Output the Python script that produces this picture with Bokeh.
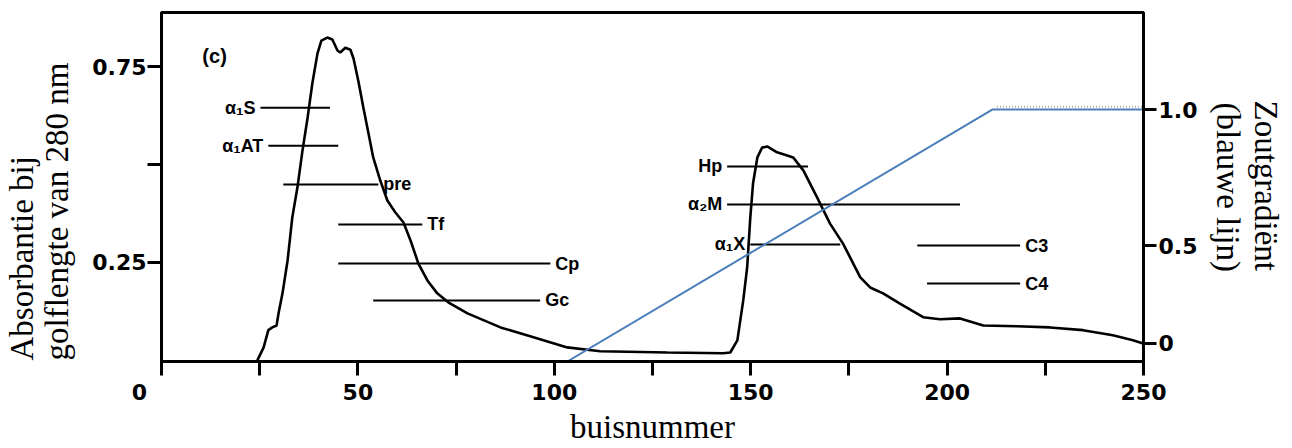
import numpy as np
from bokeh.plotting import figure
from bokeh.layouts import row
from bokeh.models import Range1d, LinearAxis, FixedTicker, Label
from bokeh.embed import file_html
from bokeh.resources import INLINE
from bokeh.core.properties import value

# ---------------- data ----------------
tube = [24.4, 26.0, 27.2, 28.2, 29.3, 29.8, 30.8, 32.1, 33.3, 34.6, 35.9, 37.2, 38.4,
        39.7, 40.7, 42.2, 43.5, 44.8, 45.5, 46.8, 48.1, 48.9, 50.1, 51.4, 52.7, 53.9,
        55.7, 57.5, 59.5, 61.6, 63.4, 65.4, 67.7, 70.2, 73.0, 77.9, 86.3, 94.7, 103.3,
        111.7, 128.8, 143.0, 144.8, 146.6, 148.1, 149.1, 149.9, 150.6, 151.7, 152.9,
        154.2, 156.7, 159.3, 160.8, 163.4, 166.9, 170.2, 173.5, 175.3, 177.9, 180.4,
        183.7, 188.0, 193.9, 198.2, 203.3, 209.2, 217.8, 226.2, 234.6, 242.2, 247.3, 249.9]
absorbance = [0.0, 0.033, 0.077, 0.084, 0.089, 0.120, 0.171, 0.255, 0.365, 0.441, 0.536,
              0.620, 0.707, 0.783, 0.816, 0.824, 0.819, 0.791, 0.786, 0.798, 0.793, 0.770,
              0.714, 0.645, 0.579, 0.518, 0.459, 0.408, 0.378, 0.352, 0.306, 0.247, 0.204,
              0.171, 0.148, 0.120, 0.084, 0.059, 0.033, 0.023, 0.020, 0.018, 0.020, 0.051,
              0.153, 0.237, 0.365, 0.452, 0.518, 0.543, 0.546, 0.531, 0.523, 0.518, 0.485,
              0.416, 0.349, 0.298, 0.263, 0.212, 0.186, 0.171, 0.145, 0.110, 0.105, 0.107,
              0.089, 0.087, 0.084, 0.077, 0.064, 0.051, 0.043]

# salt gradient (right axis)
grad_x = [103.3, 211.5, 252.0]
grad_y = [-0.077, 1.0, 1.0]
dotted_x = [212.7, 250.0]
dotted_y = [1.012, 1.012]

# elution bands of proteins
band_names = ["α₁S", "α₁AT", "pre", "Tf", "Cp", "Gc", "Hp", "α₂M", "α₁X", "C3", "C4"]
band_start = [25.2, 27.2, 31.0, 45.0, 45.0, 53.9, 144.0, 144.0, 149.9, 192.4, 194.9]
band_end = [42.9, 45.0, 55.2, 66.4, 99.0, 96.4, 164.6, 203.3, 172.8, 218.6, 218.6]
band_level = [0.645, 0.548, 0.449, 0.347, 0.247, 0.153, 0.495, 0.398, 0.296, 0.293, 0.196]
band_label_side = ["left", "left", "right", "right", "right", "right",
                   "left", "left", "left", "right", "right"]

x_ticks = [0, 25, 50, 75, 100, 125, 150, 175, 200, 225, 250]
x_tick_labels = ["0\u2003\u2003", "", "50", "", "100", "", "150", "", "200", "", "250"]
y_ticks = [0.25, 0.5, 0.75]
y_tick_labels = ["0.25", "", "0.75"]
right_ticks = [0.0, 0.417, 1.0]
right_tick_labels = ["0", "0.5", "1.0"]

x_title = "buisnummer"
y_title_lines = ["Absorbantie bij", "golflengte van 280 nm"]
right_title_lines = ["Zoutgradiënt", "(blauwe lijn)"]

H = 448
LEFT_W = 84
RIGHT_W = 92
MAIN_W = 1292 - LEFT_W - RIGHT_W
TOP_B = 12
BOT_B = 87

tick_font = "DejaVu Sans"
serif = "Liberation Serif"

# ---------------- main figure ----------------
p = figure(width=MAIN_W, height=H, x_range=Range1d(0, 250), y_range=Range1d(-0.003, 0.888),
           output_backend="svg", toolbar_location=None,
           min_border_left=161 - LEFT_W, min_border_right=1200 - 1143,
           min_border_top=TOP_B, min_border_bottom=BOT_B)
p.extra_y_ranges = {"right": Range1d(-0.077, 1.415)}
p.xgrid.visible = False
p.ygrid.visible = False
p.outline_line_color = "black"
p.outline_line_width = 3
p.background_fill_color = "white"
p.border_fill_color = "white"

def style_axis(ax, tick_out, standoff):
    ax.axis_line_width = 3
    ax.axis_line_color = "black"
    ax.major_tick_line_width = 3
    ax.major_tick_out = tick_out
    ax.major_tick_in = 0
    ax.minor_tick_line_color = None
    ax.major_label_text_font = tick_font
    ax.major_label_text_font_style = "bold"
    ax.major_label_text_font_size = "22px"
    ax.major_label_text_color = "black"
    ax.major_label_standoff = standoff

xa = p.xaxis[0]
xa.ticker = FixedTicker(ticks=x_ticks)
xa.major_label_overrides = {t: l for t, l in zip(x_ticks, x_tick_labels)}
style_axis(xa, 14, 4)
xa.axis_label = x_title
xa.axis_label_standoff = 1
xa.axis_label_text_font = serif
xa.axis_label_text_font_style = "normal"
xa.axis_label_text_font_size = "33px"
xa.axis_label_text_color = "black"

ya = p.yaxis[0]
ya.ticker = FixedTicker(ticks=y_ticks)
ya.major_label_overrides = {t: l for t, l in zip(y_ticks, y_tick_labels)}
style_axis(ya, 14, 1)

ra = LinearAxis(y_range_name="right", ticker=FixedTicker(ticks=right_ticks))
ra.major_label_overrides = {t: l for t, l in zip(right_ticks, right_tick_labels)}
style_axis(ra, 13, 2)
p.add_layout(ra, "right")

# absorbance curve
p.line(tube, absorbance, line_color="black", line_width=2.6)

# bands
p.segment(x0=band_start, y0=band_level, x1=band_end, y1=band_level,
          line_color="black", line_width=2)

lx = [s for s, side in zip(band_start, band_label_side) if side == "left"]
ly = [v for v, side in zip(band_level, band_label_side) if side == "left"]
lt = [n for n, side in zip(band_names, band_label_side) if side == "left"]
rx = [e for e, side in zip(band_end, band_label_side) if side == "right"]
ry = [v for v, side in zip(band_level, band_label_side) if side == "right"]
rt = [n for n, side in zip(band_names, band_label_side) if side == "right"]

p.text(lx, ly, text=lt, text_align="right", text_baseline="middle", x_offset=-5,
       text_font=value("Liberation Sans"), text_font_style="bold",
       text_font_size="18px", text_color="black")
p.text(rx, ry, text=rt, text_align="left", text_baseline="middle", x_offset=5,
       text_font=value("Liberation Sans"), text_font_style="bold",
       text_font_size="18px", text_color="black")

# salt gradient
p.line(dotted_x, dotted_y, y_range_name="right", line_color="#b0b0b0",
       line_width=2, line_dash="1 2")
p.line(grad_x, grad_y, y_range_name="right", line_color="#4a7ebb", line_width=2)

# panel tag
p.add_layout(Label(x=10.4, y=0.778, text="(c)", text_font="Liberation Sans",
                   text_font_style="bold", text_font_size="20px", text_align="left",
                   text_baseline="alphabetic", text_color="black"))

# ---------------- side title strips (frames aligned with the main frame) ----------------
def title_strip(w):
    f = figure(width=w, height=H, x_range=Range1d(0, w), y_range=Range1d(BOT_B, H - TOP_B),
               output_backend="svg", toolbar_location=None,
               x_axis_location=None, y_axis_location=None, min_border=0,
               min_border_left=0, min_border_right=0,
               min_border_top=TOP_B, min_border_bottom=BOT_B)
    f.grid.visible = False
    f.outline_line_color = None
    f.background_fill_color = "white"
    f.border_fill_color = "white"
    return f

left = title_strip(LEFT_W)
left.text([21, 56], [H - 360, H - 360], text=y_title_lines, angle=np.pi / 2,
          text_align="left", text_baseline="alphabetic",
          text_font=value(serif), text_font_size="33px", text_color="black")

right = title_strip(RIGHT_W)
right.text([65, 27], [H - 100, H - 102], text=right_title_lines, angle=-np.pi / 2,
           text_align="left", text_baseline="alphabetic",
           text_font=value(serif), text_font_size="33px", text_color="black")

layout = row(left, p, right, spacing=0)

open("out.html", "w").write(file_html(layout, INLINE))
